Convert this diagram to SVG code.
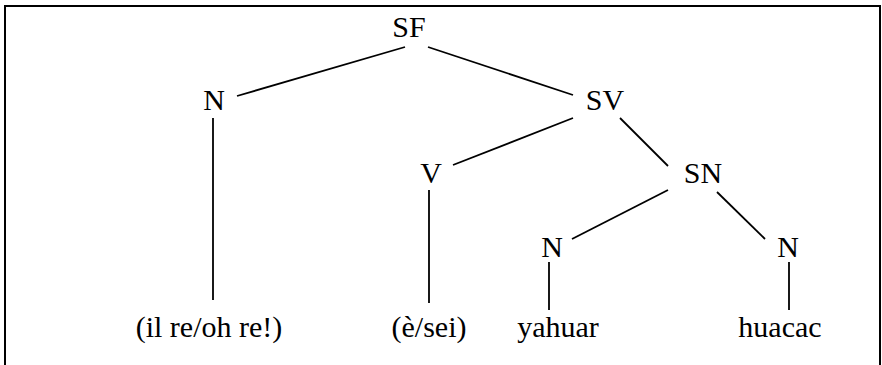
<svg xmlns="http://www.w3.org/2000/svg" width="882" height="365" viewBox="0 0 882 365">
<style>
text{font-family:"Liberation Serif","Times New Roman",serif;font-size:30px;fill:#000;text-anchor:middle}
.e{stroke:#000;stroke-width:1.8;fill:none}
</style>
<rect x="0" y="0" width="882" height="365" fill="#fff"/>
<rect x="5" y="6" width="875" height="380" fill="none" stroke="#000" stroke-width="2"/>
<g id="connectors">
<line class="e" x1="405" y1="47" x2="237" y2="96"/>
<line class="e" x1="428" y1="47" x2="573" y2="95"/>
<line class="e" x1="213" y1="118" x2="213" y2="300"/>
<line class="e" x1="573" y1="118" x2="453" y2="165"/>
<line class="e" x1="620" y1="118" x2="668" y2="166"/>
<line class="e" x1="429" y1="190" x2="429" y2="303"/>
<line class="e" x1="668" y1="190" x2="572" y2="239"/>
<line class="e" x1="717" y1="192" x2="765" y2="239"/>
<line class="e" x1="549" y1="262" x2="549" y2="310"/>
<line class="e" x1="789" y1="262" x2="789" y2="310"/>
</g>
<g id="n-SF"><text x="409" y="37">SF</text></g>
<g id="n-N1"><text x="214" y="110">N</text></g>
<g id="n-SV"><text x="605" y="110">SV</text></g>
<g id="n-V"><text x="431" y="183">V</text></g>
<g id="n-SN"><text x="703" y="183">SN</text></g>
<g id="n-N2"><text x="552" y="257">N</text></g>
<g id="n-N3"><text x="788" y="257">N</text></g>
<g id="leaf-1"><text x="209" y="337">(il re/oh re!)</text></g>
<g id="leaf-2"><text x="429" y="337">(è/sei)</text></g>
<g id="leaf-3"><text x="558" y="337">yahuar</text></g>
<g id="leaf-4"><text x="780" y="337">huacac</text></g>
</svg>
